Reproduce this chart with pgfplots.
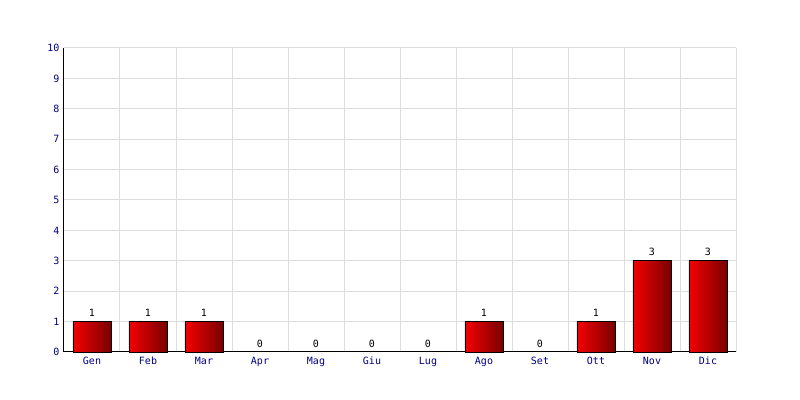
\documentclass[border=0pt]{standalone}
\usepackage{pgfplots}
\pgfplotsset{compat=1.18}
\usepackage{fontspec}
\setmainfont{DejaVu Sans Mono}
\usetikzlibrary{calc}
\definecolor{gridgray}{RGB}{221,221,221}
\definecolor{ticknavy}{RGB}{0,0,128}
\definecolor{barleft}{RGB}{245,0,0}
\definecolor{barright}{RGB}{120,0,0}
\begin{document}
\begin{tikzpicture}
\begin{axis}[
  name=ax,
  scale only axis,
  width=672pt, height=304pt,
  xmin=-0.5, xmax=11.5,
  ymin=0, ymax=10,
  xtick={0,...,11},
  xticklabels={Gen,Feb,Mar,Apr,Mag,Giu,Lug,Ago,Set,Ott,Nov,Dic},
  ytick={0,...,10},
  minor xtick={-0.5,0.5,...,11.5},
  xminorgrids, ymajorgrids,
  grid style={gridgray, line width=1pt},
  minor grid style={gridgray, line width=1pt},
  axis x line=bottom, axis y line=left,
  axis line style={-, black, line width=1pt},
  major tick length=0pt, minor tick length=0pt,
  tick label style={font=\fontsize{10}{10}\selectfont, text=ticknavy},
  /pgf/number format/assume math mode=true,
  xticklabel style={yshift=-1pt, text height=7.5pt, text depth=2.5pt},
  yticklabel style={xshift=-1pt},
  bar width=0.68,
  nodes near coords,
  every node near coord/.append style={font=\fontsize{10}{10}\selectfont, text=black, yshift=1pt},
  clip=false,
  redbar/.style={ybar, draw=black, line width=0.8pt, left color=barleft, right color=barright},
  zerobar/.style={ybar, draw=none, fill=none},
]
\addplot[redbar] coordinates {(0,1)};
\addplot[redbar] coordinates {(1,1)};
\addplot[redbar] coordinates {(2,1)};
\addplot[zerobar] coordinates {(3,0)};
\addplot[zerobar] coordinates {(4,0)};
\addplot[zerobar] coordinates {(5,0)};
\addplot[zerobar] coordinates {(6,0)};
\addplot[redbar] coordinates {(7,1)};
\addplot[zerobar] coordinates {(8,0)};
\addplot[redbar] coordinates {(9,1)};
\addplot[redbar] coordinates {(10,3)};
\addplot[redbar] coordinates {(11,3)};
\end{axis}
\path[use as bounding box] ($(ax.south west)+(-64pt,-48pt)$) rectangle ($(ax.north east)+(64pt,48pt)$);
\end{tikzpicture}
\end{document}
